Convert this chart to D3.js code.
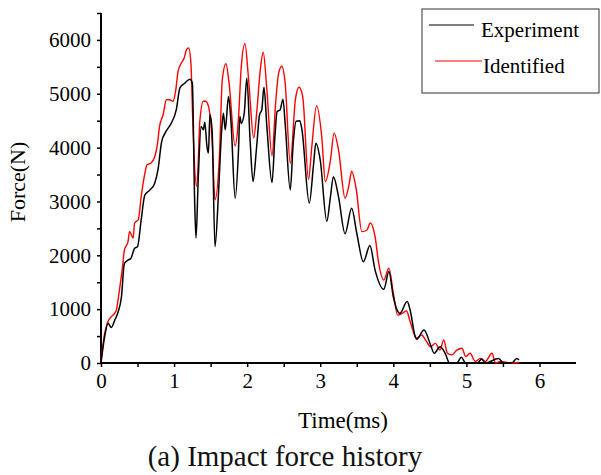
<!DOCTYPE html>
<html>
<head>
<meta charset="utf-8">
<script src="https://cdn.jsdelivr.net/npm/d3@7"></script>
<style>
  body { margin: 0; background: #fff; }
  svg { display: block; }
</style>
</head>
<body>
<svg id="chart" width="601" height="475"></svg>
<script>
// values (time in ms, force in N)
let expTime = [0,0.05,0.096,0.14,0.19,0.23,0.28,0.32,0.37,0.41,0.46,0.50,0.55,0.60,0.67,0.735,0.78,0.83,0.89,0.96,1.03,1.08,1.15,1.215,1.25,1.28,1.30,1.33,1.37,1.40,1.42,1.45,1.47,1.49,1.52,1.56,1.61,1.65,1.675,1.70,1.745,1.78,1.836,1.88,1.90,1.92,1.96,1.995,2.04,2.08,2.13,2.17,2.20,2.23,2.27,2.34,2.38,2.41,2.45,2.49,2.52,2.59,2.63,2.67,2.72,2.75,2.85,2.91,2.94,3.0,3.09,3.14,3.18,3.25,3.34,3.43,3.50,3.59,3.68,3.75,3.87,3.94,4.0,4.09,4.19,4.23,4.30,4.32,4.42,4.51,4.56,4.64,4.71,4.77,4.87,4.93,4.99,5.15,5.21,5.26,5.44,5.51,5.62,5.69,5.72]
let expForce = [0,490,740,660,800,930,1230,1850,1910,1946,2130,2160,2660,3120,3215,3340,3590,4110,4300,4450,4700,5110,5200,5270,5200,3090,2320,3400,4390,4330,4470,4020,3900,4610,4330,2160,3215,4300,4640,4330,4950,4450,3060,3900,4580,4450,4640,5290,4145,3370,4020,4610,4700,5120,4390,3350,4210,4670,4700,4900,4450,3215,4080,4490,4500,4330,2970,3710,4080,3770,2630,3090,3460,3090,2400,2875,2410,1880,2180,1730,1370,1700,1230,920,1140,985,490,440,613,335,180,303,180,0,0,105,0,0,75,0,85,0,0,85,55]

let idTime = [0,0.05,0.096,0.14,0.18,0.21,0.256,0.30,0.32,0.37,0.39,0.44,0.46,0.51,0.55,0.60,0.63,0.68,0.735,0.78,0.80,0.85,0.895,0.94,0.986,1.02,1.055,1.10,1.137,1.17,1.20,1.23,1.26,1.305,1.33,1.35,1.40,1.43,1.47,1.52,1.56,1.62,1.66,1.71,1.75,1.836,1.88,1.92,1.97,2.02,2.09,2.13,2.18,2.22,2.27,2.34,2.39,2.43,2.475,2.52,2.59,2.66,2.71,2.76,2.84,2.885,2.95,3.02,3.07,3.14,3.19,3.25,3.34,3.39,3.43,3.49,3.57,3.64,3.685,3.75,3.80,3.87,3.94,4.0,4.06,4.12,4.18,4.23,4.32,4.39,4.44,4.51,4.575,4.64,4.69,4.74,4.80,4.87,4.94,4.99,5.05,5.12,5.19,5.26,5.35,5.40,5.47,5.60,5.72]
let idForce = [30,550,770,860,910,985,1390,1850,2100,2255,2440,2320,2600,2660,3090,3520,3680,3710,3830,4145,4390,4610,4890,4890,4860,5040,5415,5570,5660,5820,5850,5570,4330,3280,3710,4450,4860,4860,4770,4145,3030,3830,5260,5560,5230,4030,4520,5510,5930,5260,4180,4640,5450,5770,5070,3850,4830,5380,5510,5200,3710,4890,5120,4950,3410,4020,4780,4210,3370,3770,4270,3960,3060,3280,3560,3250,2440,2470,2600,2350,1850,1540,1760,1300,890,920,970,770,460,520,430,303,365,240,430,180,150,240,273,120,180,30,85,30,180,0,30,0,10]

let xTicks = [0,0.5,1,1.5,2,2.5,3,3.5,4,4.5,5,5.5,6]
let yTicks = [0,500,1000,1500,2000,2500,3000,3500,4000,4500,5000,5500,6000,6500]
let seriesNames = ['Experiment', 'Identified']
let seriesColors = ['#000000', '#ff0000']

let svg = d3.select('#chart')
let serif = '"Liberation Serif", "Times New Roman", serif'

let x = d3.scaleLinear().domain([0, 6.5]).range([101, 576])
let y = d3.scaleLinear().domain([0, 6500]).range([363, 13])

// axes
let xAxis = d3.axisBottom(x)
    .tickValues(xTicks)
    .tickSizeInner(4)
    .tickSizeOuter(0)
    .tickPadding(6)
    .tickFormat(d => Number.isInteger(d) ? d : '')

let gx = svg.append('g')
    .attr('transform', 'translate(0,' + y(0) + ')')
    .call(xAxis)
gx.select('.domain').remove()
gx.selectAll('.tick line').attr('stroke', '#000').attr('stroke-width', 1.5)
gx.selectAll('.tick text')
    .style('font-family', serif)
    .style('font-size', '21px')
    .attr('fill', '#000')

let yAxis = d3.axisLeft(y)
    .tickValues(yTicks)
    .tickSizeInner(4)
    .tickSizeOuter(0)
    .tickPadding(6)
    .tickFormat(d => d % 1000 === 0 ? d : '')

let gy = svg.append('g')
    .attr('transform', 'translate(' + x(0) + ',0)')
    .call(yAxis)
gy.select('.domain').remove()
gy.selectAll('.tick line').attr('stroke', '#000').attr('stroke-width', 1.5)
gy.selectAll('.tick text')
    .style('font-family', serif)
    .style('font-size', '21px')
    .attr('fill', '#000')

// axis lines
svg.append('line')
    .attr('x1', x(0)).attr('x2', x(6.5))
    .attr('y1', y(0)).attr('y2', y(0))
    .attr('stroke', '#000').attr('stroke-width', 2)
svg.append('line')
    .attr('x1', x(0)).attr('x2', x(0))
    .attr('y1', y(0)).attr('y2', y(6500))
    .attr('stroke', '#000').attr('stroke-width', 2)

// curves
let line = d3.line()
    .x(d => x(d[0]))
    .y(d => y(d[1]))
    .curve(d3.curveMonotoneX)

let expData = expTime.map((t, i) => [t, expForce[i]])
let idData = idTime.map((t, i) => [t, idForce[i]])

svg.append('path')
    .datum(idData)
    .attr('d', line)
    .attr('fill', 'none')
    .attr('stroke', seriesColors[1])
    .attr('stroke-width', 1.4)

svg.append('path')
    .datum(expData)
    .attr('d', line)
    .attr('fill', 'none')
    .attr('stroke', seriesColors[0])
    .attr('stroke-width', 1.5)

// axis titles
svg.append('text')
    .attr('x', 343)
    .attr('y', 428)
    .attr('text-anchor', 'middle')
    .style('font-family', serif)
    .style('font-size', '23px')
    .text('Time(ms)')

svg.append('text')
    .attr('transform', 'translate(25,182) rotate(-90)')
    .attr('text-anchor', 'middle')
    .style('font-family', serif)
    .style('font-size', '22px')
    .text('Force(N)')

svg.append('text')
    .attr('x', 285)
    .attr('y', 466)
    .attr('text-anchor', 'middle')
    .style('font-family', serif)
    .style('font-size', '29px')
    .attr('fill', '#111')
    .text('(a) Impact force history')

// legend
let legend = svg.append('g')
legend.append('rect')
    .attr('x', 422).attr('y', 9)
    .attr('width', 177).attr('height', 84)
    .attr('fill', '#fff')
    .attr('stroke', '#333').attr('stroke-width', 1)

let legendRows = [
    {name: seriesNames[0], color: seriesColors[0], x1: 429, x2: 474, ly: 25, tx: 481, ty: 36.5},
    {name: seriesNames[1], color: seriesColors[1], x1: 435, x2: 482, ly: 61, tx: 483, ty: 73}
]
legendRows.forEach(r => {
    legend.append('line')
        .attr('x1', r.x1).attr('x2', r.x2)
        .attr('y1', r.ly).attr('y2', r.ly)
        .attr('stroke', r.color).attr('stroke-width', 1.2)
    legend.append('text')
        .attr('x', r.tx).attr('y', r.ty)
        .style('font-family', serif)
        .style('font-size', '21px')
        .text(r.name)
})
</script>
</body>
</html>
